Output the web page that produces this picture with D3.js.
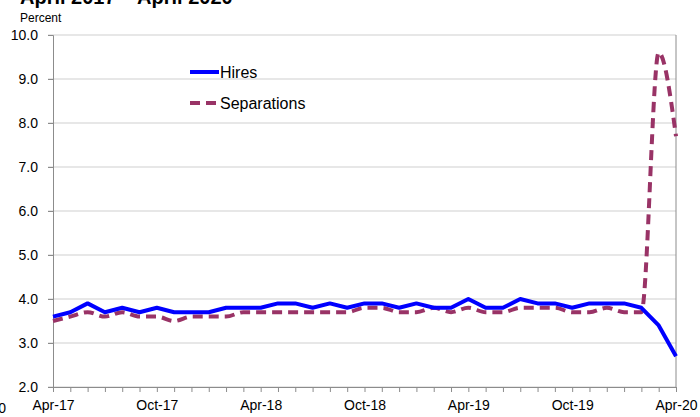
<!DOCTYPE html>
<html>
<head>
<meta charset="utf-8">
<script src="https://cdn.jsdelivr.net/npm/d3@7"></script>
<style>
  body { margin: 0; background: #fff; }
  svg { display: block; font-family: "Liberation Sans", Arial, sans-serif; }
</style>
</head>
<body>
<div id="chart"></div>
<script>
// data, Apr-17 .. Apr-20
const months = ["Apr-17","May-17","Jun-17","Jul-17","Aug-17","Sep-17","Oct-17","Nov-17","Dec-17","Jan-18","Feb-18","Mar-18",
  "Apr-18","May-18","Jun-18","Jul-18","Aug-18","Sep-18","Oct-18","Nov-18","Dec-18","Jan-19","Feb-19","Mar-19",
  "Apr-19","May-19","Jun-19","Jul-19","Aug-19","Sep-19","Oct-19","Nov-19","Dec-19","Jan-20","Feb-20","Mar-20","Apr-20"]
const hires = [3.6,3.7,3.9,3.7,3.8,3.7,3.8,3.7,3.7,3.7,3.8,3.8,3.8,3.9,3.9,3.8,3.9,3.8,3.9,3.9,
  3.8,3.9,3.8,3.8,4.0,3.8,3.8,4.0,3.9,3.9,3.8,3.9,3.9,3.9,3.8,3.4,2.7]
const separations = [3.5,3.6,3.7,3.6,3.7,3.6,3.6,3.5,3.6,3.6,3.6,3.7,3.7,3.7,3.7,3.7,3.7,3.7,3.8,3.8,
  3.7,3.7,3.8,3.7,3.8,3.7,3.7,3.8,3.8,3.8,3.7,3.7,3.8,3.7,3.7,9.6,7.7]
const yTicks = [2,3,4,5,6,7,8,9,10]
const xLabels = ["Apr-17","Oct-17","Apr-18","Oct-18","Apr-19","Oct-19","Apr-20"]

const W = 700, H = 417
const margin = { top: 35, right: 24, bottom: 30, left: 53 }

var svg = d3.select("#chart").append("svg")
    .attr("width", W)
    .attr("height", H)

var x = d3.scalePoint()
    .domain(months)
    .range([margin.left, W - margin.right])

var y = d3.scaleLinear()
    .domain([2, 10])
    .range([H - margin.bottom, margin.top])

// title (cut off at the top) and unit label
svg.append("text")
    .attr("x", 20).attr("y", 4)
    .style("font-size", "20px").style("font-weight", "bold")
    .text("April 2017 \u2013 April 2020")

svg.append("text")
    .attr("x", 20).attr("y", 22)
    .style("font-size", "12px")
    .text("Percent")

// leftover label from the neighbouring panel
svg.append("text")
    .attr("x", 6).attr("y", 413)
    .attr("text-anchor", "end")
    .style("font-size", "14px")
    .text("Apr-20")

// gridlines
svg.append("g")
    .selectAll("line")
    .data(yTicks)
    .enter().append("line")
    .attr("x1", margin.left - 5)
    .attr("x2", W - margin.right)
    .attr("y1", d => y(d))
    .attr("y2", d => y(d))
    .style("stroke", "#cfcfcf")
    .style("stroke-width", 1)

// y axis
var yAxis = svg.append("g")
    .attr("transform", "translate(" + margin.left + ",0)")
    .call(d3.axisLeft(y).tickValues(yTicks).tickFormat(d3.format(".1f")).tickSize(5))
yAxis.select(".domain").style("stroke", "#8c8c8c")
yAxis.selectAll(".tick line").style("stroke", "#8c8c8c")
yAxis.selectAll("text")
    .attr("x", -15)
    .style("font-size", "14px")
    .style("font-family", "Liberation Sans, Arial, sans-serif")
    .style("fill", "#000")

// right border
svg.append("line")
    .attr("x1", W - margin.right).attr("x2", W - margin.right)
    .attr("y1", y(10)).attr("y2", y(2))
    .style("stroke", "#8c8c8c")

// x axis
var xAxis = svg.append("g")
    .attr("transform", "translate(0," + (H - margin.bottom) + ")")
    .call(d3.axisBottom(x).tickSize(5).tickFormat(d => xLabels.includes(d) ? d : ""))
xAxis.select(".domain").style("stroke", "#8c8c8c")
xAxis.selectAll(".tick line").style("stroke", "#8c8c8c")
xAxis.selectAll("text")
    .attr("y", 13)
    .style("font-size", "14px")
    .style("font-family", "Liberation Sans, Arial, sans-serif")
    .style("fill", "#000")

// lines
var smoothLine = d3.line()
    .x((d, i) => x(months[i]))
    .y(d => y(d))
    .curve(d3.curveMonotoneX)

var straightLine = d3.line()
    .x((d, i) => x(months[i]))
    .y(d => y(d))

svg.append("path")
    .datum(separations)
    .attr("d", smoothLine)
    .style("fill", "none")
    .style("stroke", "#993366")
    .style("stroke-width", 4)
    .style("stroke-dasharray", "10,6")

svg.append("path")
    .datum(hires)
    .attr("d", straightLine)
    .style("fill", "none")
    .style("stroke", "#0000ff")
    .style("stroke-width", 4)
    .style("stroke-linejoin", "round")

// legend
const legendItems = [
    { name: "Hires", color: "#0000ff", dash: null, y: 72 },
    { name: "Separations", color: "#993366", dash: "10,6", y: 103 }
]
var legend = svg.append("g")
legendItems.forEach(item => {
    legend.append("line")
        .attr("x1", 190).attr("x2", 219)
        .attr("y1", item.y).attr("y2", item.y)
        .style("stroke", item.color)
        .style("stroke-width", 4)
        .style("stroke-dasharray", item.dash)
    legend.append("text")
        .attr("x", 220).attr("y", item.y)
        .attr("dy", "0.35em")
        .style("font-size", "16px")
        .text(item.name)
})
</script>
</body>
</html>
